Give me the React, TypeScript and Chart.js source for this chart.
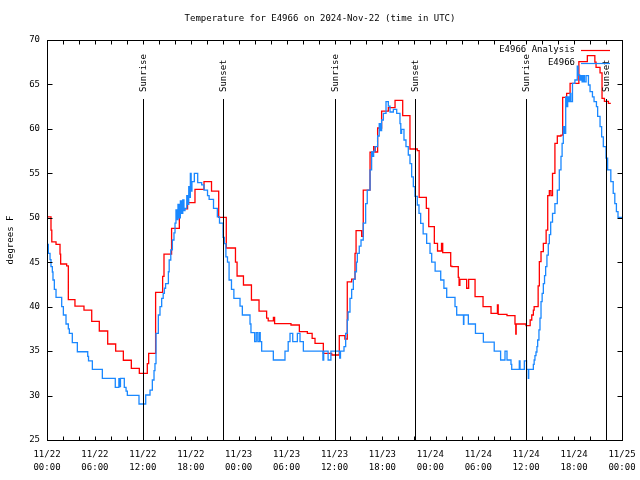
import React, { useEffect, useRef } from 'react';
import { Chart, registerables } from 'chart.js';

Chart.register(...registerables);

// hours since 2024-11-22 00:00 UTC, temperature in degrees F
const analysisSeries: [number, number][] = [
  [0, 50.1], [0.5, 48.6], [0.6, 47.3], [1.13, 47.0], [1.63, 45.9], [1.71, 44.8], [2.46, 44.6], [2.67, 40.8],
  [3.5, 40.05], [4.63, 39.6], [5.6, 38.35], [6.55, 37.26], [7.6, 35.8], [8.6, 35.0], [9.56, 33.97], [10.56, 33.06],
  [11.56, 32.5], [12.56, 33.6], [12.73, 34.75], [13.6, 41.6], [14.48, 43.4], [14.65, 45.9], [15.6, 48.8], [16.57, 51.0],
  [17.6, 51.7], [18.53, 53.2], [19.66, 54.06], [20.6, 53.0], [21.5, 50.05], [22.45, 46.6], [23.6, 45.0], [23.8, 43.45],
  [24.6, 42.44], [25.6, 40.75], [26.55, 39.5], [27.5, 38.7], [27.7, 38.4], [28.35, 38.8], [28.5, 38.1], [30.55, 37.94],
  [31.6, 37.2], [32.6, 37.0], [33.2, 36.44], [33.56, 35.88], [34.6, 34.75], [35.65, 34.56], [36.6, 36.74], [37.3, 36.36],
  [37.6, 42.8], [38.15, 43.1], [38.57, 46.0], [38.7, 48.55], [39.4, 47.9], [39.6, 53.1], [40.45, 57.37], [40.9, 58.0],
  [41.1, 57.4], [41.4, 60.1], [41.9, 62.0], [42.74, 62.4], [43.58, 63.2], [44.54, 61.5], [45.45, 57.74], [46.37, 57.55],
  [46.6, 52.3], [47.5, 51.06], [47.8, 49.0], [48.5, 47.13], [48.9, 46.26], [49.4, 47.13], [49.55, 46.07], [50.55, 44.57],
  [50.7, 44.5], [51.5, 43.3], [51.6, 42.4], [51.7, 43.08], [52.55, 42.07], [52.8, 43.08], [53.6, 41.12], [54.6, 40.0],
  [55.6, 39.25], [56.4, 40.2], [56.5, 39.14], [57.6, 39.0], [58.6, 38.05], [58.7, 36.9], [58.75, 38.05], [59.98, 37.86],
  [60.5, 38.5], [60.7, 39.06], [60.9, 39.6], [61.0, 40.0], [61.5, 42.33], [61.65, 45.06], [61.86, 46.2], [62.15, 47.13],
  [62.5, 48.6], [62.7, 52.5], [62.9, 53.05], [63.1, 52.5], [63.3, 55.0], [63.6, 58.38], [63.9, 59.2], [64.36, 59.3],
  [64.57, 63.55], [65.07, 64.0], [65.5, 65.13], [66.6, 67.56], [67.66, 68.24], [68.6, 67.5], [68.75, 66.93], [69.25, 66.3],
  [69.5, 63.44], [69.8, 63.1], [70.3, 62.88], [70.6, 62.88],
];

const stationSeries: [number, number][] = [
  [0, 47.0], [0.17, 46.0], [0.38, 45.3], [0.5, 44.5], [0.67, 43.9], [0.75, 43.0], [0.92, 41.95], [1.13, 41.05],
  [1.84, 40.0], [2.05, 39.06], [2.38, 38.05], [2.67, 37.5], [2.8, 37.0], [3.17, 35.95], [3.8, 34.93], [5.1, 34.4],
  [5.2, 33.9], [5.68, 32.95], [6.93, 31.94], [8.55, 30.93], [9.0, 31.9], [9.1, 31.0], [9.2, 31.94], [9.68, 30.93],
  [9.9, 30.5], [10.06, 30.03], [11.52, 29.05], [12.36, 30.06], [12.9, 30.6], [13.19, 31.75], [13.4, 32.8], [13.52, 33.6],
  [13.65, 37.0], [13.94, 39.06], [14.15, 40.0], [14.36, 40.94], [14.55, 41.5], [14.7, 42.07], [14.85, 42.6], [15.2, 43.93],
  [15.3, 45.25], [15.5, 46.4], [15.7, 47.5], [15.9, 48.3], [16.03, 49.4], [16.15, 50.9], [16.25, 49.8], [16.4, 51.5],
  [16.55, 50.0], [16.7, 51.9], [16.85, 50.5], [17.0, 52.0], [17.15, 50.8], [17.28, 51.06], [17.5, 52.5], [17.65, 51.5],
  [17.75, 53.5], [17.85, 52.3], [17.95, 55.0], [18.05, 53.0], [18.15, 54.06], [18.45, 55.0], [18.87, 53.95], [19.37, 53.7],
  [19.66, 53.1], [20.1, 52.5], [20.3, 52.07], [20.85, 51.06], [21.33, 50.1], [21.6, 49.4], [22.05, 47.8], [22.2, 47.1],
  [22.4, 45.6], [22.6, 45.0], [22.8, 43.0], [23.1, 41.95], [23.4, 40.94], [24.17, 40.07], [24.46, 39.06], [25.42, 38.05],
  [25.54, 37.07], [26.0, 36.06], [26.2, 37.07], [26.4, 36.06], [26.6, 37.07], [26.7, 36.06], [26.88, 35.0], [28.34, 34.0],
  [29.8, 35.0], [30.2, 36.06], [30.43, 37.0], [30.77, 36.06], [31.35, 37.0], [31.68, 36.06], [32.1, 35.0], [34.55, 34.0],
  [34.65, 35.0], [35.2, 34.0], [35.55, 35.0], [36.65, 34.2], [36.75, 35.0], [37.19, 35.5], [37.4, 37.0], [37.6, 38.5],
  [37.7, 39.4], [37.94, 40.94], [38.15, 41.95], [38.36, 43.08], [38.57, 43.93], [38.75, 45.0], [38.86, 46.0], [39.1, 46.8],
  [39.32, 47.5], [39.6, 49.4], [39.9, 51.6], [40.1, 53.1], [40.45, 55.4], [40.65, 57.4], [40.8, 56.9], [40.9, 57.5],
  [41.07, 58.0], [41.4, 59.2], [41.6, 60.6], [41.75, 59.8], [41.9, 61.0], [42.12, 61.75], [42.45, 63.06], [42.74, 62.57],
  [42.95, 61.9], [43.37, 62.2], [43.79, 61.75], [44.2, 60.6], [44.3, 59.5], [44.4, 59.95], [44.7, 58.75], [44.95, 58.0],
  [45.24, 57.06], [45.45, 56.1], [45.66, 54.6], [45.87, 53.5], [46.08, 52.4], [46.37, 51.44], [46.58, 50.5], [46.79, 49.38],
  [47.1, 48.2], [47.54, 47.13], [47.96, 46.0], [48.17, 45.0], [48.6, 44.0], [49.3, 43.0], [49.7, 42.07], [50.05, 41.05],
  [51.09, 40.0], [51.3, 39.06], [52.15, 38.0], [52.2, 39.06], [52.76, 38.05], [53.65, 37.0], [54.64, 36.0], [56.0, 35.0],
  [56.8, 34.0], [57.35, 35.0], [57.6, 34.0], [58.1, 33.5], [58.19, 32.95], [59.14, 33.9], [59.23, 32.95], [59.77, 33.9],
  [60.05, 32.95], [60.27, 31.94], [60.32, 32.95], [60.9, 33.5], [61.0, 34.0], [61.1, 34.5], [61.23, 34.9], [61.35, 35.5],
  [61.44, 36.25], [61.6, 37.4], [61.73, 38.7], [61.86, 40.56], [62.0, 41.5], [62.15, 42.6], [62.3, 43.5], [62.44, 44.5],
  [62.6, 45.8], [62.77, 47.1], [62.9, 48.1], [63.07, 49.5], [63.3, 50.5], [63.6, 51.6], [63.9, 53.1], [64.15, 55.4],
  [64.36, 56.9], [64.5, 58.38], [64.65, 60.25], [64.8, 59.5], [64.95, 63.6], [65.1, 62.5], [65.2, 63.6], [65.36, 63.06],
  [65.5, 64.0], [65.6, 63.06], [65.8, 65.13], [66.1, 65.5], [66.4, 67.07], [66.5, 66.06], [66.7, 65.5], [66.85, 66.0],
  [67.0, 65.3], [67.15, 66.0], [67.3, 65.3], [67.5, 66.0], [67.8, 64.94], [68.0, 64.2], [68.3, 63.6], [68.5, 63.06],
  [68.8, 62.5], [68.95, 61.4], [69.25, 60.25], [69.45, 59.1], [69.66, 58.0], [70.0, 56.7], [70.2, 55.4], [70.6, 54.06],
  [70.9, 52.75], [71.1, 51.6], [71.3, 50.7], [71.5, 50.05], [72, 50.05],
];

const sunHours = [12.05, 22.08, 36.07, 46.12, 60.03, 70.05];
const sunLabels = ['Sunrise', 'Sunset', 'Sunrise', 'Sunset', 'Sunrise', 'Sunset'];
const xTickLabels: string[][] = [
  ['11/22', '00:00'], ['11/22', '06:00'], ['11/22', '12:00'], ['11/22', '18:00'],
  ['11/23', '00:00'], ['11/23', '06:00'], ['11/23', '12:00'], ['11/23', '18:00'],
  ['11/24', '00:00'], ['11/24', '06:00'], ['11/24', '12:00'], ['11/24', '18:00'],
  ['11/25', '00:00'],
];
const seriesNames = ['E4966 Analysis', 'E4966'];
const seriesColors = ['#ff0000', '#1a88ff'];
const titleText = 'Temperature for E4966 on 2024-Nov-22 (time in UTC)';
const yTitle = 'degrees F';

const FONT_FAMILY = '"DejaVu Sans Mono", monospace';
const FONT = `9px ${FONT_FAMILY}`;

const overlay = {
  id: 'overlay',
  afterDatasetsDraw(chart: any) {
    const { ctx, chartArea: a, scales } = chart;
    const x = scales.x;
    const y = scales.y;
    ctx.save();
    ctx.strokeStyle = '#000';
    ctx.fillStyle = '#000';
    ctx.lineWidth = 1;
    ctx.font = FONT;

    // sunrise / sunset markers
    sunHours.forEach((h, i) => {
      const px = Math.round(x.getPixelForValue(h)) + 0.5;
      ctx.beginPath();
      ctx.moveTo(px, a.top + 59);
      ctx.lineTo(px, a.bottom);
      ctx.stroke();
      ctx.save();
      ctx.translate(px, a.top + 52);
      ctx.rotate(-Math.PI / 2);
      ctx.textAlign = 'left';
      ctx.textBaseline = 'middle';
      ctx.fillText(sunLabels[i], 0, 0);
      ctx.restore();
    });

    // frame
    const l = Math.round(a.left) + 0.5;
    const r = Math.round(a.right) + 0.5;
    const t = Math.round(a.top) + 0.5;
    const b = Math.round(a.bottom) + 0.5;
    ctx.strokeRect(l, t, r - l, b - t);

    // ticks (inward)
    ctx.beginPath();
    for (let h = x.min; h <= x.max; h += 2) {
      const px = Math.round(x.getPixelForValue(h)) + 0.5;
      ctx.moveTo(px, b); ctx.lineTo(px, b - 4);
      ctx.moveTo(px, t); ctx.lineTo(px, t + 4);
    }
    for (let v = y.min; v <= y.max; v += 5) {
      const py = Math.round(y.getPixelForValue(v)) + 0.5;
      ctx.moveTo(l, py); ctx.lineTo(l + 5, py);
      ctx.moveTo(r, py); ctx.lineTo(r - 5, py);
    }
    ctx.stroke();

    // legend
    ctx.textAlign = 'right';
    ctx.textBaseline = 'middle';
    seriesNames.forEach((name, i) => {
      const ly = a.top + 9.5 + i * 13;
      ctx.fillStyle = '#000';
      ctx.fillText(name, a.right - 47, ly);
      ctx.strokeStyle = seriesColors[i];
      ctx.lineWidth = 1.2;
      ctx.beginPath();
      ctx.moveTo(a.right - 41, Math.round(ly) + 0.5);
      ctx.lineTo(a.right - 12, Math.round(ly) + 0.5);
      ctx.stroke();
    });

    // title
    ctx.fillStyle = '#000';
    ctx.textAlign = 'center';
    ctx.fillText(titleText, chart.width / 2, 19);

    // y axis title
    ctx.save();
    ctx.translate(11, (a.top + a.bottom) / 2);
    ctx.rotate(-Math.PI / 2);
    ctx.textAlign = 'center';
    ctx.textBaseline = 'middle';
    ctx.fillText(yTitle, 0, 0);
    ctx.restore();

    ctx.restore();
  },
};

export default function App() {
  const canvasRef = useRef<HTMLCanvasElement | null>(null);

  useEffect(() => {
    const canvas = canvasRef.current;
    if (!canvas) return;
    const chart = new Chart(canvas, {
      type: 'line',
      data: {
        datasets: [
          {
            label: seriesNames[1],
            data: stationSeries.map(([h, v]) => ({ x: h, y: v })),
            borderColor: seriesColors[1],
            borderWidth: 1.3,
            pointRadius: 0,
            stepped: true,
            fill: false,
          },
          {
            label: seriesNames[0],
            data: analysisSeries.map(([h, v]) => ({ x: h, y: v })),
            borderColor: seriesColors[0],
            borderWidth: 1.3,
            pointRadius: 0,
            stepped: true,
            fill: false,
          },
        ],
      },
      options: {
        responsive: false,
        animation: false,
        devicePixelRatio: 1,
        layout: { padding: { left: 0, top: 40, right: 18, bottom: 0 } },
        plugins: {
          legend: { display: false },
          tooltip: { enabled: false },
          title: { display: false },
        },
        scales: {
          x: {
            type: 'linear',
            min: 0,
            max: 72,
            grid: { display: false, drawTicks: false },
            border: { display: false },
            ticks: {
              stepSize: 6,
              autoSkip: false,
              maxRotation: 0,
              padding: 8,
              color: '#000',
              font: { family: FONT_FAMILY, size: 9, lineHeight: 1.45 },
              callback: (value: any) => xTickLabels[Math.round(Number(value) / 6)] ?? '',
            },
            afterFit: (scale: any) => {
              scale.height = 40;
              scale.paddingLeft = 0;
              scale.paddingRight = 0;
            },
          },
          y: {
            min: 25,
            max: 70,
            grid: { display: false, drawTicks: false },
            border: { display: false },
            ticks: {
              stepSize: 5,
              padding: 7,
              color: '#000',
              font: { family: FONT_FAMILY, size: 9 },
            },
            afterFit: (scale: any) => {
              scale.width = 47;
              scale.paddingTop = 0;
              scale.paddingBottom = 0;
            },
          },
        },
      },
      plugins: [overlay],
    });
    return () => chart.destroy();
  }, []);

  return (
    <div style={{ position: 'fixed', left: 0, top: 0, width: 640, height: 480, background: '#fff' }}>
      <canvas ref={canvasRef} width={640} height={480} style={{ width: 640, height: 480 }} />
    </div>
  );
}
